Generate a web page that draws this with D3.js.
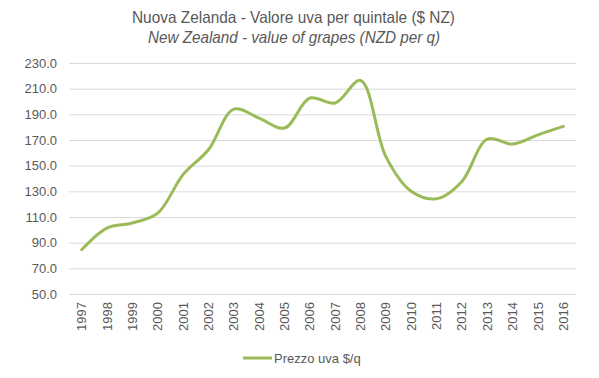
<!DOCTYPE html>
<html>
<head>
<meta charset="utf-8">
<script src="https://cdn.jsdelivr.net/npm/d3@7"></script>
<style>
  body { margin: 0; background: #fff; }
  svg { display: block; font-family: "Liberation Sans", Arial, sans-serif; }
</style>
</head>
<body>
<svg id="chart" width="599" height="378"></svg>
<script>
const years = ["1997","1998","1999","2000","2001","2002","2003","2004","2005","2006",
  "2007","2008","2009","2010","2011","2012","2013","2014","2015","2016"];
const prices = [84.5, 101.4, 105.3, 113, 143, 162.4, 194, 187, 179.3, 202.7,
  198.8, 216.4, 157, 130, 124.2, 137.7, 170.7, 166.8, 174, 180.6];
const yTicks = [50, 70, 90, 110, 130, 150, 170, 190, 210, 230];
const titleIt = "Nuova Zelanda - Valore uva per quintale ($ NZ)";
const titleEn = "New Zealand - value of grapes (NZD per q)";
const seriesName = "Prezzo uva $/q";

const width = 599, height = 378;
const margin = { left: 69, right: 23, top: 63, bottom: 84 };
const svg = d3.select("#chart");

const x = d3.scaleBand().domain(years).range([margin.left, width - margin.right]);
const y = d3.scaleLinear().domain([50, 230]).range([height - margin.bottom, margin.top]);

// titles (condensed look squeezed with textLength)
svg.append("text")
  .attr("x", 293.5).attr("y", 23)
  .attr("text-anchor", "middle")
  .attr("font-size", 16.5).attr("fill", "#595959")
  .attr("textLength", 323).attr("lengthAdjust", "spacingAndGlyphs")
  .text(titleIt);
svg.append("text")
  .attr("x", 294).attr("y", 43)
  .attr("text-anchor", "middle")
  .attr("font-style", "italic")
  .attr("font-size", 16.5).attr("fill", "#595959")
  .attr("textLength", 292).attr("lengthAdjust", "spacingAndGlyphs")
  .text(titleEn);

// y axis with gridlines
const yAxis = d3.axisLeft(y).tickValues(yTicks).tickFormat(d3.format(".1f"))
  .tickSize(-(width - margin.left - margin.right)).tickPadding(12);
svg.append("g")
  .attr("transform", `translate(${margin.left},0)`)
  .call(yAxis)
  .call((g) => {
    g.select(".domain").remove();
    g.selectAll(".tick line").attr("stroke", "#d9d9d9");
    g.selectAll(".tick text").attr("fill", "#595959").attr("font-size", 13);
  });

// x axis, rotated labels
const xAxis = d3.axisBottom(x).tickSize(0).tickPadding(0);
svg.append("g")
  .attr("transform", `translate(0,${height - margin.bottom})`)
  .call(xAxis)
  .call((g) => {
    g.select(".domain").remove();
    g.selectAll(".tick text")
      .attr("fill", "#595959").attr("font-size", 13)
      .attr("text-anchor", "end")
      .attr("transform", "rotate(-90)")
      .attr("x", -8).attr("y", 0).attr("dy", "0.35em");
  });

// line
const line = d3.line()
  .x((d, i) => x(years[i]) + x.bandwidth() / 2)
  .y((d) => y(d))
  .curve(d3.curveCatmullRom.alpha(0.5));

svg.append("path")
  .datum(prices)
  .attr("fill", "none")
  .attr("stroke", "#9bbb59")
  .attr("stroke-width", 3)
  .attr("stroke-linecap", "round")
  .attr("d", line);

// legend
const legend = svg.append("g").attr("transform", "translate(243,358)");
legend.append("line")
  .attr("x1", 0).attr("x2", 29)
  .attr("stroke", "#9bbb59").attr("stroke-width", 3);
legend.append("text")
  .attr("x", 31).attr("dy", "0.35em")
  .attr("font-size", 13).attr("fill", "#595959")
  .text(seriesName);
</script>
</body>
</html>
